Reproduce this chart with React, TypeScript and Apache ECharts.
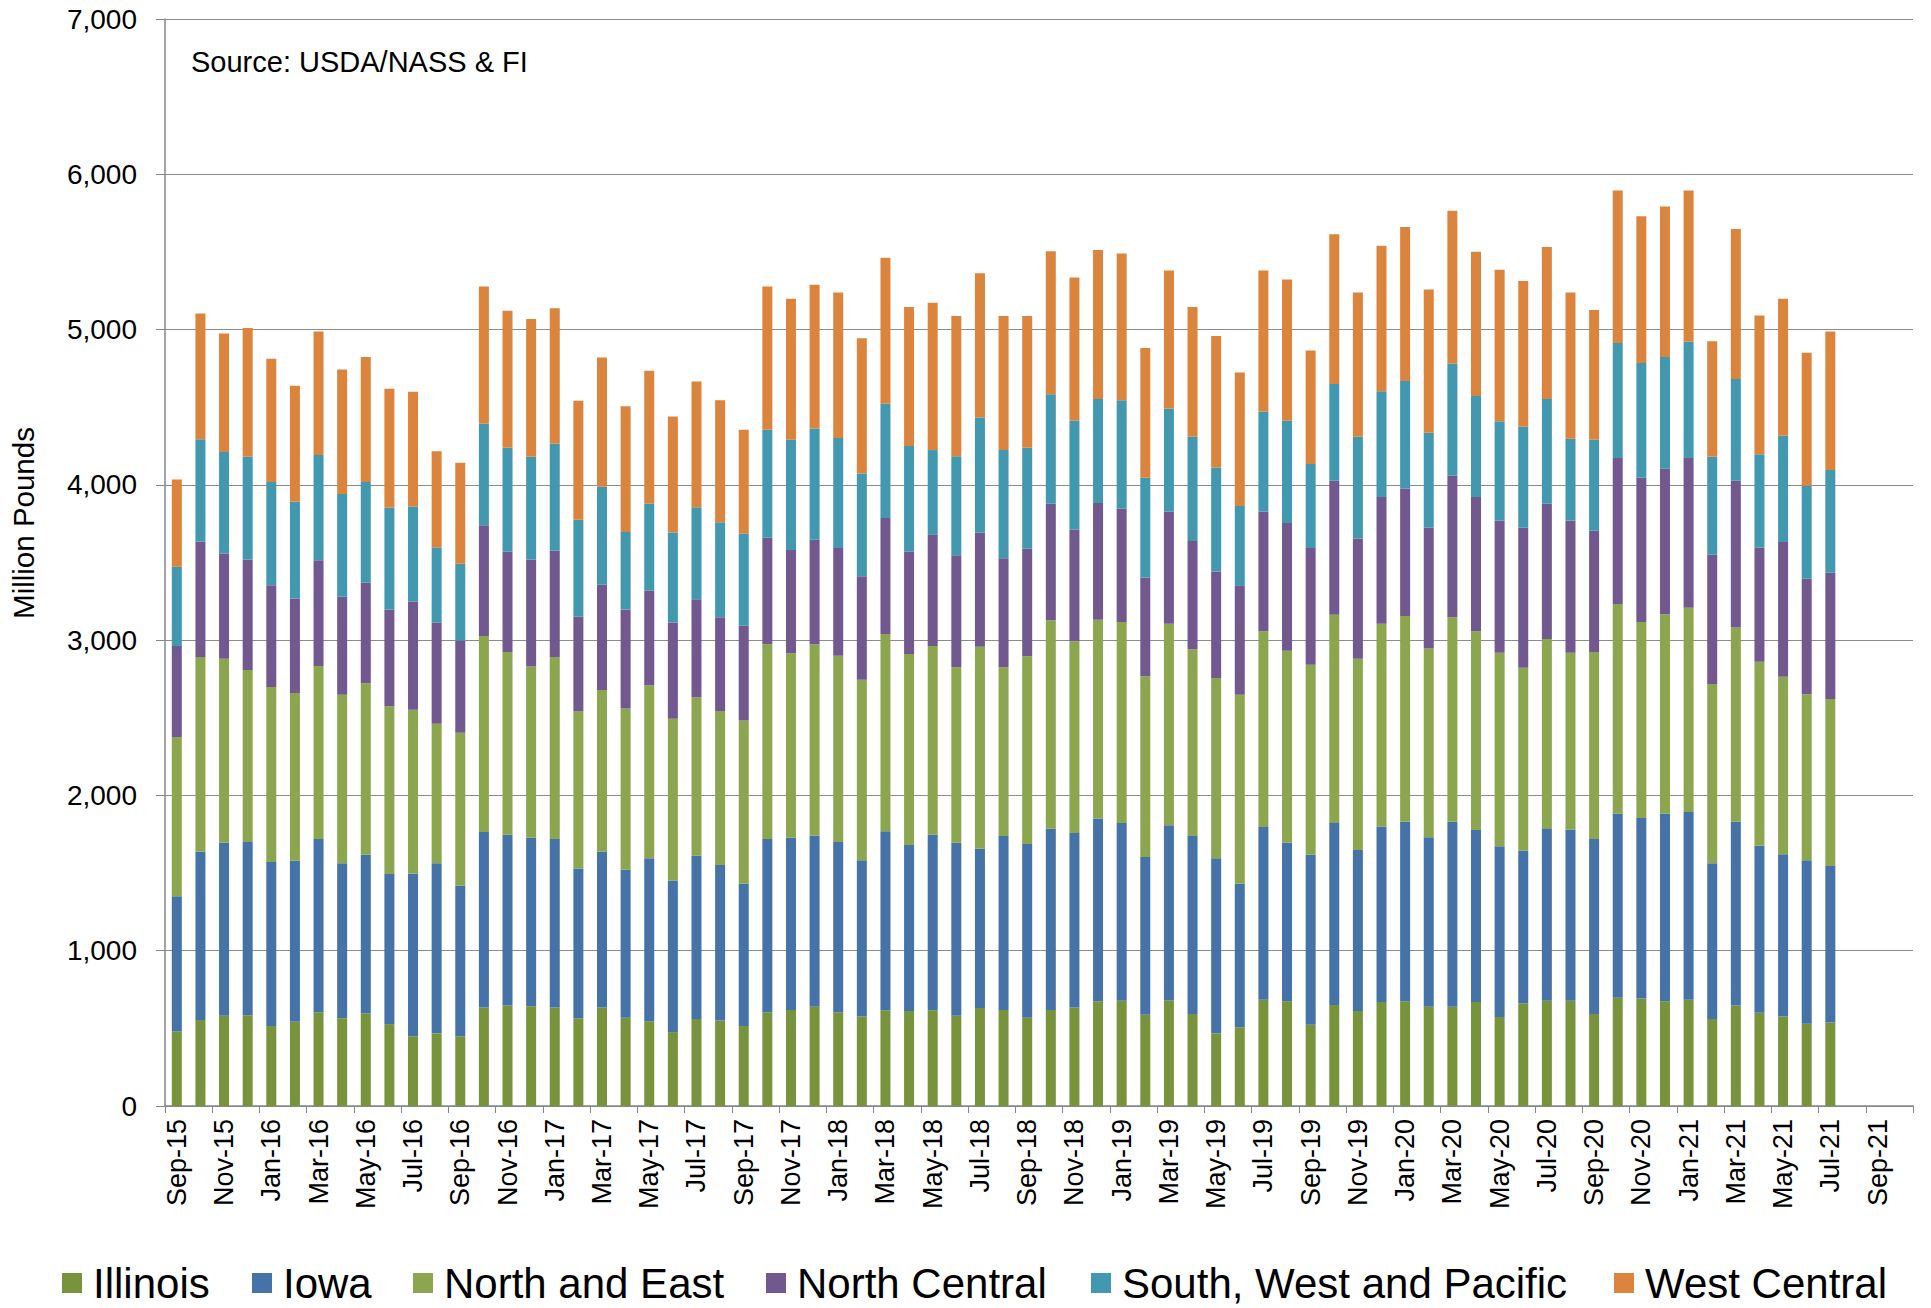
import React, { useEffect, useRef } from "react";
import * as echarts from "echarts";

const categories = [
  "Sep-15","Oct-15","Nov-15","Dec-15","Jan-16","Feb-16","Mar-16","Apr-16","May-16","Jun-16","Jul-16","Aug-16",
  "Sep-16","Oct-16","Nov-16","Dec-16","Jan-17","Feb-17","Mar-17","Apr-17","May-17","Jun-17","Jul-17","Aug-17",
  "Sep-17","Oct-17","Nov-17","Dec-17","Jan-18","Feb-18","Mar-18","Apr-18","May-18","Jun-18","Jul-18","Aug-18",
  "Sep-18","Oct-18","Nov-18","Dec-18","Jan-19","Feb-19","Mar-19","Apr-19","May-19","Jun-19","Jul-19","Aug-19",
  "Sep-19","Oct-19","Nov-19","Dec-19","Jan-20","Feb-20","Mar-20","Apr-20","May-20","Jun-20","Jul-20","Aug-20",
  "Sep-20","Oct-20","Nov-20","Dec-20","Jan-21","Feb-21","Mar-21","Apr-21","May-21","Jun-21","Jul-21","Aug-21",
  "Sep-21","Oct-21"
];

const illinois = [
  480,554,581,585,515,542,604,565,596,527,
  449,468,449,635,647,643,635,565,635,569,
  546,476,561,550,515,604,619,639,604,577,
  616,612,616,581,631,619,569,619,635,674,
  677,588,681,592,468,507,685,674,523,650,
  612,670,674,639,639,670,573,662,677,677,
  592,697,693,674,685,561,647,600,577,530,
  538
];

const iowa = [
  871,1084,1115,1115,1057,1038,1115,999,1022,967,
  1049,1096,970,1130,1099,1084,1084,964,1003,952,
  1049,976,1050,1002,917,1115,1108,1103,1096,1006,
  1153,1068,1130,1115,1026,1119,1119,1166,1123,1177,
  1146,1015,1127,1146,1127,925,1111,1022,1095,1173,
  1037,1130,1157,1092,1192,1107,1099,983,1112,1104,
  1127,1185,1161,1208,1208,1003,1184,1076,1045,1053,
  1007
];

const northAndEast = [
  1026,1254,1184,1107,1126,1080,1115,1084,1104,1081,
  1053,898,985,1262,1177,1103,1173,1011,1041,1038,
  1115,1041,1022,992,1050,1254,1188,1231,1200,1162,
  1270,1231,1216,1130,1301,1088,1208,1343,1235,1281,
  1294,1165,1297,1204,1162,1216,1262,1235,1224,1340,
  1231,1305,1324,1215,1317,1281,1247,1177,1219,1138,
  1204,1351,1263,1285,1316,1154,1251,1185,1142,1069,
  1076
];

const northCentral = [
  585,743,678,712,655,608,681,631,650,623,
  697,651,593,713,646,689,685,611,678,639,
  608,620,631,604,611,686,666,674,693,666,
  747,658,716,720,735,701,693,751,720,751,
  731,635,724,697,685,701,771,824,751,863,
  775,817,821,778,913,864,852,902,871,852,
  782,940,929,937,964,832,944,736,868,743,
  813
];

const southWestPacific = [
  511,658,654,662,666,623,678,662,647,654,
  612,484,495,654,670,662,689,624,631,499,
  561,580,592,611,593,696,709,716,708,662,
  736,682,546,639,740,697,650,705,700,670,
  697,643,662,670,670,515,643,658,542,624,
  654,681,693,612,720,650,639,651,674,526,
  585,740,739,720,748,631,655,600,685,600,
  662
];

const westCentral = [
  561,810,763,829,793,747,794,802,805,767,
  739,619,650,883,883,887,871,766,832,809,
  856,748,809,786,669,922,909,925,937,871,
  941,894,948,902,929,863,848,921,922,960,
  945,836,890,836,847,859,909,910,731,964,
  929,937,991,922,984,929,975,937,979,941,
  836,983,945,968,975,744,967,894,882,856,
  891
];

const seriesNames = ["Illinois", "Iowa", "North and East", "North Central", "South, West and Pacific", "West Central"];
const seriesData = [illinois, iowa, northAndEast, northCentral, southWestPacific, westCentral];
const seriesColors = ["#77933C", "#4572A7", "#8BA64F", "#71588F", "#4198AF", "#DB843D"];
const legendLefts = [62, 252, 413, 766, 1091, 1614];

const FONT = "'Liberation Sans', Arial, Helvetica, sans-serif";

export default function App() {
  const ref = useRef<HTMLDivElement>(null);

  useEffect(() => {
    if (!ref.current) return;
    const chart = echarts.init(ref.current, null, { renderer: "svg" });
    const option: any = {
      animation: false,
      backgroundColor: "#ffffff",
      textStyle: { fontFamily: FONT },
      grid: { left: 165, right: 18, top: 19, bottom: 202, containLabel: false },
      legend: seriesNames.map((name, i) => ({
        data: [name],
        left: legendLefts[i],
        top: 1262,
        icon: "rect",
        itemWidth: 20,
        itemHeight: 20,
        padding: 0,
        textStyle: { fontSize: 42, lineHeight: 42, color: "#000", fontFamily: FONT, padding: [0, 0, 0, 6] },
      })),
      xAxis: {
        type: "category",
        data: categories,
        boundaryGap: true,
        axisLine: { lineStyle: { color: "#868686", width: 1.5 } },
        axisTick: { show: true, interval: 1, length: 7, lineStyle: { color: "#868686" } },
        axisLabel: {
          interval: 1,
          rotate: 90,
          fontSize: 27,
          color: "#000",
          margin: 13,
          fontFamily: FONT,
        },
      },
      yAxis: {
        type: "value",
        min: 0,
        max: 7000,
        interval: 1000,
        axisLine: { show: true, lineStyle: { color: "#868686", width: 1.5 } },
        axisTick: { show: true, length: 9, lineStyle: { color: "#868686" } },
        splitLine: { show: true, lineStyle: { color: "#8C8C8C", width: 1 } },
        axisLabel: {
          fontSize: 28,
          color: "#000",
          margin: 28,
          fontFamily: FONT,
          formatter: (v: number) => v.toLocaleString("en-US"),
        },
      },
      graphic: [
        {
          type: "text",
          x: 23,
          y: 523,
          rotation: Math.PI / 2,
          style: {
            text: "Million Pounds",
            font: `29.5px ${FONT}`,
            fill: "#000",
            align: "center",
            verticalAlign: "middle",
          },
        },
        {
          type: "text",
          x: 191,
          y: 62,
          style: {
            text: "Source: USDA/NASS & FI",
            font: `29px ${FONT}`,
            fill: "#000",
            align: "left",
            verticalAlign: "middle",
          },
        },
      ],
      series: seriesNames.map((name, i) => ({
        name,
        type: "bar",
        stack: "total",
        barWidth: 10,
        data: seriesData[i],
        itemStyle: { color: seriesColors[i] },
      })),
    };
    chart.setOption(option);
    return () => chart.dispose();
  }, []);

  return (
    <div
      ref={ref}
      style={{ position: "fixed", left: 0, top: 0, width: 1931, height: 1308, background: "#fff" }}
    />
  );
}
